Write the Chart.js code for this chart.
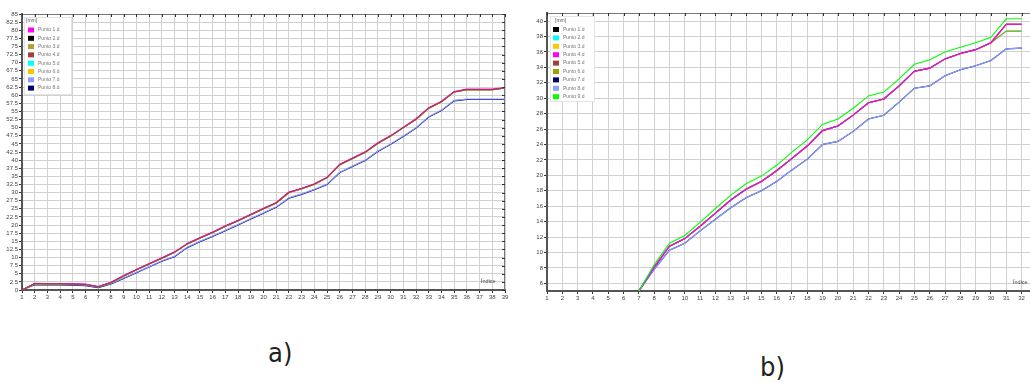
<!DOCTYPE html>
<html><head><meta charset="utf-8">
<script src="https://cdn.jsdelivr.net/npm/chart.js@4/dist/chart.umd.min.js"></script>
<style>
html,body{margin:0;padding:0;background:#fff;width:1030px;height:383px;overflow:hidden;}
#ca{position:absolute;left:0;top:0;}
#cb{position:absolute;left:525px;top:0;}
.cap{position:absolute;font-family:'DejaVu Sans Condensed','DejaVu Sans',sans-serif;font-size:27px;color:#222;line-height:1;}
</style></head><body>
<canvas id="ca" width="515" height="310"></canvas>
<canvas id="cb" width="505" height="310"></canvas>
<div class="cap" style="left:268px;top:339px">a)</div>
<div class="cap" style="left:760px;top:353px">b)</div>
<script>
// ---------- chart a) ----------
const indexA = [1,2,3,4,5,6,7,8,9,10,11,12,13,14,15,16,17,18,19,20,21,22,23,24,25,26,27,28,29,30,31,32,33,34,35,36,37,38,39];
const yTicksA = [0,2.5,5,7.5,10,12.5,15,17.5,20,22.5,25,27.5,30,32.5,35,37.5,40,42.5,45,47.5,50,52.5,55,57.5,60,62.5,65,67.5,70,72.5,75,77.5,80,82.5,85];
const namesA = ['Punto 1.d','Punto 2.d','Punto 3.d','Punto 4.d','Punto 5.d','Punto 6.d','Punto 7.d','Punto 8.d'];
const colorsA = ['#ff00ff','#000000','#b4a032','#a0403c','#00ffff','#f5c800','#8c9cff','#000070'];
const puntoA1 = [0,2.1,2.0,2.0,1.9,1.8,1.1,2.4,4.45,6.35,8.15,9.95,11.75,14.35,16.15,17.85,19.75,21.45,23.35,25.15,26.95,30.15,31.35,32.75,34.75,38.75,40.65,42.55,45.35,47.55,50.15,52.75,56.15,58.15,61.15,61.85,61.85,61.85,62.35];
const puntoA4 = [0,2.0,1.9,1.9,1.8,1.7,1.0,2.3,4.3,6.2,8.0,9.8,11.6,14.2,16.0,17.7,19.6,21.3,23.2,25.0,26.8,30.0,31.2,32.6,34.6,38.6,40.5,42.4,45.2,47.4,50.0,52.6,56.0,58.0,61.0,61.7,61.7,61.7,62.2];
const puntoA7 = [0,1.8,1.7,1.7,1.6,1.5,0.9,2.0,3.7,5.5,7.2,9.0,10.4,13.2,15.0,16.6,18.4,20.2,22.0,23.8,25.6,28.4,29.6,31.0,32.6,36.3,38.2,40.0,42.8,45.0,47.4,50.0,53.4,55.4,58.4,58.8,58.8,58.8,58.8];
const puntoA8 = [0,1.65,1.55,1.55,1.45,1.35,0.75,1.85,3.55,5.35,7.05,8.85,10.25,13.05,14.85,16.45,18.25,20.05,21.85,23.65,25.45,28.25,29.45,30.85,32.45,36.15,38.05,39.85,42.65,44.85,47.25,49.85,53.25,55.25,58.25,58.65,58.65,58.65,58.65];
const seriesA = [puntoA1, puntoA4, puntoA4, puntoA4, puntoA4, puntoA4, puntoA7, puntoA8];
const orderA = [3,6,5,1,7,4,8,9];

// ---------- chart b) ----------
const indexB = [1,2,3,4,5,6,7,8,9,10,11,12,13,14,15,16,17,18,19,20,21,22,23,24,25,26,27,28,29,30,31,32];
const yTicksB = [6,8,10,12,14,16,18,20,22,24,26,28,30,32,34,36,38,40];
const namesB = ['Punto 1.d','Punto 2.d','Punto 3.d','Punto 4.d','Punto 5.d','Punto 6.d','Punto 7.d','Punto 8.d','Punto 9.d'];
const colorsB = ['#000000','#00ffff','#ffc800','#ff00ff','#a0403c','#a0a000','#000070','#8ca0ff','#00ff00'];
const puntoBred  = [null,null,null,null,null,null,5.0,8.1,10.8,11.8,13.4,15.1,16.8,18.2,19.2,20.6,22.2,23.8,25.8,26.4,27.8,29.4,29.9,31.6,33.5,33.9,35.1,35.8,36.3,37.2,39.6,39.6];
const puntoBmid  = [null,null,null,null,null,null,5.0,8.1,10.8,11.8,13.4,15.1,16.8,18.2,19.2,20.6,22.2,23.8,25.8,26.4,27.8,29.4,29.9,31.6,33.5,33.9,35.1,35.8,36.3,37.2,38.7,38.7];
const puntoBblue = [null,null,null,null,null,null,5.0,7.8,10.3,11.2,12.8,14.3,15.8,17.1,18.0,19.2,20.7,22.1,24.0,24.4,25.7,27.3,27.8,29.5,31.3,31.6,32.9,33.7,34.2,34.9,36.4,36.5];
const puntoBgreen= [null,null,null,null,null,null,5.0,8.4,11.2,12.2,13.9,15.7,17.4,18.9,19.9,21.3,23.0,24.6,26.6,27.3,28.7,30.3,30.8,32.5,34.4,35.0,36.0,36.6,37.2,37.9,40.3,40.3];
const seriesB = [puntoBred, puntoBmid, puntoBred, puntoBred, puntoBred, puntoBmid, puntoBblue, puntoBblue, puntoBgreen];
const orderB = [8,6,7,2,3,5,4,3,1];

const framePlugin = {
  id: 'frame',
  afterDatasetsDraw(chart, args, o) {
    const {ctx, chartArea: a, scales: {x, y}} = chart;
    ctx.save();
    ctx.strokeStyle = '#777'; ctx.lineWidth = 1;
    ctx.beginPath();
    ctx.moveTo(a.left, a.top + 0.5); ctx.lineTo(a.right, a.top + 0.5);
    if (o.rightBorder) { ctx.moveTo(a.right - 0.5, a.top); ctx.lineTo(a.right - 0.5, a.bottom); }
    ctx.stroke();
    ctx.strokeStyle = '#333';
    ctx.beginPath();
    x.ticks.forEach(t => { const p = Math.round(x.getPixelForValue(t.value)) + 0.5; ctx.moveTo(p, a.top); ctx.lineTo(p, a.top + 3); });
    if (o.rightBorder) y.ticks.forEach(t => { const p = Math.round(y.getPixelForValue(t.value)) + 0.5; ctx.moveTo(a.right, p); ctx.lineTo(a.right - 3, p); });
    ctx.stroke();
    const L = o.legend;
    ctx.fillStyle = '#fff'; ctx.fillRect(L.x, L.y, L.w, L.h);
    ctx.strokeStyle = '#e4e4e4'; ctx.strokeRect(L.x + .5, L.y + .5, L.w, L.h);
    ctx.font = '5px "Liberation Sans"'; ctx.fillStyle = '#555'; ctx.textBaseline = 'middle';
    ctx.fillText('[mm]', L.hx, L.hy);
    chart.data.datasets.forEach((d, i) => {
      const cy = L.y0 + i * L.dy;
      ctx.fillStyle = d.borderColor; ctx.fillRect(L.sx, cy - 2.5, 6, 5);
      ctx.fillStyle = '#777'; ctx.fillText(d.label, L.tx, cy);
    });
    ctx.fillStyle = '#444';
    ctx.font = '5.5px "Liberation Sans"';
    ctx.fillText('Índice', o.idx.x, o.idx.y);
    ctx.restore();
  }
};

function makeChart(id, idx, ticksY, names, colors, series, orders, xr, yr, pad, axW, axH, fo) {
  const datasets = names.map((n, i) => ({
    label: n,
    data: idx.map((v, k) => ({x: v, y: series[i][k]})),
    borderColor: colors[i], backgroundColor: colors[i],
    borderWidth: 1.1, pointRadius: 0, tension: 0, order: orders[i], spanGaps: false
  }));
  return new Chart(document.getElementById(id), {
    type: 'line',
    data: {datasets},
    options: {
      responsive: false, animation: false,
      layout: {padding: pad},
      plugins: {legend: {display: false}, tooltip: {enabled: false}, frame: fo},
      scales: {
        x: {
          type: 'linear', min: xr[0], max: xr[1],
          afterBuildTicks: s => { s.ticks = idx.map(v => ({value: v})); },
          afterFit: s => { s.height = axH; },
          ticks: {font: {size: 6, family: 'Liberation Sans'}, color: '#444', autoSkip: false, maxRotation: 0, padding: 1, callback: v => String(v)},
          grid: {color: '#d0d0d0', lineWidth: 1, tickLength: 3, tickColor: '#333'},
          border: {color: '#555', width: 2}
        },
        y: {
          min: yr[0], max: yr[1],
          afterBuildTicks: s => { s.ticks = ticksY.map(v => ({value: v})); },
          afterFit: s => { s.width = axW; },
          ticks: {font: {size: 6, family: 'Liberation Sans'}, color: '#444', autoSkip: false, padding: 1, callback: v => String(v)},
          grid: {color: '#d0d0d0', lineWidth: 1, tickLength: 3, tickColor: '#333'},
          border: {color: '#555', width: 2}
        }
      }
    },
    plugins: [framePlugin]
  });
}

makeChart('ca', indexA, yTicksA, namesA, colorsA, seriesA, orderA, [1, 39], [0, 85],
  {left: 0, right: 10, top: 14, bottom: 0}, 22, 20,
  {rightBorder: true, legend: {x: 24, y: 17, w: 47, h: 77, hx: 26, hy: 21, y0: 30, dy: 8.3, sx: 28, tx: 38}, idx: {x: 481, y: 281}});

makeChart('cb', indexB, yTicksB, namesB, colorsB, seriesB, orderB, [1, 32.55], [5, 41.05],
  {left: 0, right: 0, top: 13, bottom: 0}, 22, 19,
  {rightBorder: false, legend: {x: 25, y: 16, w: 44, h: 85, hx: 30, hy: 21, y0: 29.5, dy: 8.4, sx: 28, tx: 38}, idx: {x: 488, y: 282}});
</script>
</body></html>
